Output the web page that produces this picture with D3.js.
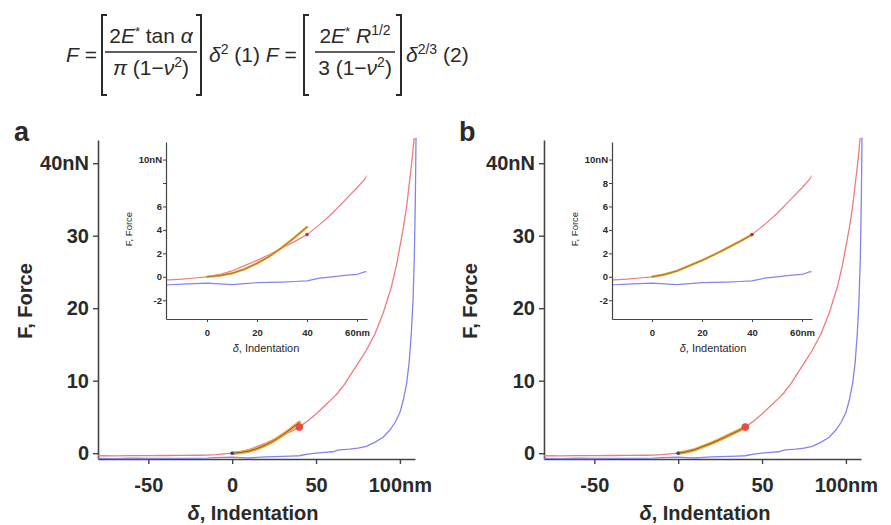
<!DOCTYPE html>
<html>
<head>
<meta charset="utf-8">
<script src="https://cdn.jsdelivr.net/npm/d3@7"></script>
<style>
  body { margin: 0; background: #fff; }
  svg { display: block; }
  text { font-family: "Liberation Sans", Arial, Helvetica, sans-serif; fill: #2a2a2a; }
</style>
</head>
<body>
<svg id="chart" width="891" height="525"></svg>
<script>
// Approach (loading) trace: indentation in nm, force in nN
const approachDelta = [-80, -70, -60, -50, -40, -30, -20, -15, -10, -5, 0, 5, 10, 15, 20, 25, 30, 35, 40, 45, 50, 55, 60, 63, 64, 67, 70, 75, 80, 85, 90, 95, 98, 100, 102, 104, 106, 107.5, 108.5];
const approachForce = [-0.35, -0.36, -0.33, -0.34, -0.32, -0.3, -0.28, -0.26, -0.2, -0.1, 0, 0.2, 0.5, 0.95, 1.4, 1.9, 2.45, 3.0, 3.6, 4.45, 5.4, 6.5, 7.6, 8.3, 8.65, 9.5, 10.6, 12.4, 14.2, 16.4, 19.3, 23.0, 26.0, 28.5, 31.0, 34.0, 38.0, 41.0, 43.5];

// Retract trace
const retractDelta = [-80, -70, -60, -50, -40, -30, -20, -15, -10, -5, 0, 5, 10, 15, 20, 25, 30, 35, 40, 45, 50, 55, 60, 63, 66, 70, 75, 80, 85, 90, 94, 97, 100, 102, 104, 105.5, 106.8, 107.8, 108.6, 109.2, 109.6];
const retractForce = [-0.72, -0.74, -0.7, -0.73, -0.7, -0.72, -0.7, -0.68, -0.62, -0.58, -0.54, -0.6, -0.66, -0.58, -0.5, -0.48, -0.45, -0.4, -0.35, -0.12, 0.0, 0.12, 0.2, 0.42, 0.48, 0.55, 0.7, 0.95, 1.5, 2.2, 3.2, 4.2, 5.6, 7.3, 9.6, 12.5, 16.5, 21.0, 27.0, 35.0, 43.5];

// Model fits over the 0-40 nm window
const fitDelta = [0, 5, 10, 15, 20, 25, 30, 35, 40];
const coneFitForce = [0, 0.1, 0.3, 0.65, 1.15, 1.75, 2.5, 3.35, 4.25];
const sphereFitForce = [0, 0.2, 0.5, 0.95, 1.4, 1.9, 2.45, 3.0, 3.6];

// Fit end point and contact point
const endPoint = { delta: 40, force: 3.6 };
const contactPoint = { delta: 0, force: 0 };

// Tick values and labels
const mainXTicks = [-50, 0, 50, 100];
const mainXLabels = ["-50", "0", "50", "100nm"];
const mainYTicks = [0, 10, 20, 30, 40];
const mainYLabels = ["0", "10", "20", "30", "40nN"];
const insetXTicks = [0, 20, 40, 60];
const insetXLabels = ["0", "20", "40", "60nm"];
const insetYTicks = [-2, 0, 2, 4, 6, 8, 10];
const insetYLabelsA = ["-2", "0", "2", "4", "6", "", "10nN"];
const insetYLabelsB = ["-2", "0", "2", "4", "6", "8", "10nN"];

const approach = approachDelta.map((d, i) => ({ x: d, y: approachForce[i] }));
const retract = retractDelta.map((d, i) => ({ x: d, y: retractForce[i] }));

const svg = d3.select("#chart");
const RED = "#f07a7e", BLUE = "#8384ec", ORANGE = "#f3a53c", OLIVE = "#7a6322", AXIS = "#444";

// ---------- formulas ----------
const fml = svg.append("g").style("font-size", "21px");

function bracket(x, dir) {
  // dir = 1 opens right "[", dir = -1 opens left "]"
  fml.append("path")
    .attr("d", `M${x + 5 * dir},15 H${x} V95 H${x + 5 * dir}`)
    .attr("fill", "none").attr("stroke", "#2a2a2a").attr("stroke-width", 2);
}
function addText(x, y, parts, anchor) {
  const t = fml.append("text").attr("x", x).attr("y", y).attr("text-anchor", anchor || "start");
  parts.forEach(p => {
    const s = t.append("tspan").text(p.t);
    if (p.i) s.style("font-style", "italic");
    if (p.dy) s.attr("dy", p.dy);
    if (p.fs) s.style("font-size", p.fs);
  });
  return t;
}

// (1) conical indenter
addText(66, 62, [{ t: "F", i: 1 }, { t: " =" }]);
bracket(102, 1);
addText(151, 43, [{ t: "2" }, { t: "E", i: 1 }, { t: "*", fs: "13px", dy: -7 }, { t: " tan ", dy: 7 }, { t: "α", i: 1 }], "middle");
fml.append("line").attr("x1", 105).attr("x2", 197).attr("y1", 52).attr("y2", 52).attr("stroke", "#2a2a2a").attr("stroke-width", 1.5);
addText(151, 75, [{ t: "π", i: 1 }, { t: " (1−" }, { t: "ν", i: 1 }, { t: "2", fs: "14px", dy: -8 }, { t: ")", dy: 8 }], "middle");
bracket(201, -1);
addText(209, 62, [{ t: "δ", i: 1 }, { t: "2", fs: "14px", dy: -8 }, { t: " (1) ", dy: 8 }, { t: "F", i: 1 }, { t: " =" }]);

// (2) spherical indenter
bracket(304, 1);
addText(355, 43, [{ t: "2" }, { t: "E", i: 1 }, { t: "*", fs: "13px", dy: -7 }, { t: " ", dy: 7 }, { t: "R", i: 1 }, { t: "1/2", fs: "14px", dy: -8 }], "middle");
fml.append("line").attr("x1", 315).attr("x2", 395).attr("y1", 52).attr("y2", 52).attr("stroke", "#2a2a2a").attr("stroke-width", 1.5);
addText(355, 75, [{ t: "3 (1−" }, { t: "ν", i: 1 }, { t: "2", fs: "14px", dy: -8 }, { t: ")", dy: 8 }], "middle");
bracket(401, -1);
addText(406, 62, [{ t: "δ", i: 1 }, { t: "2/3", fs: "14px", dy: -8 }, { t: " (2)", dy: 8 }]);

// ---------- panels ----------
let clipId = 0;
function drawPanel(cfg) {
  const g = svg.append("g");

  // main plot
  const x = d3.scaleLinear().domain([-80, 109]).range(cfg.mainX);
  const y = d3.scaleLinear().domain([-0.8, 43.2]).range([459, 140]);

  const xAxis = g.append("g").attr("transform", "translate(0,459)")
    .call(d3.axisBottom(x).tickValues(mainXTicks).tickFormat((d, i) => mainXLabels[i]).tickSize(5).tickSizeOuter(0));
  const yAxis = g.append("g").attr("transform", `translate(${cfg.mainX[0]},0)`)
    .call(d3.axisLeft(y).tickValues(mainYTicks).tickFormat((d, i) => mainYLabels[i]).tickSize(5).tickSizeOuter(0));
  [xAxis, yAxis].forEach(a => {
    a.select(".domain").attr("stroke", AXIS).attr("stroke-width", 1.6);
    a.selectAll(".tick line").attr("stroke", AXIS).attr("stroke-width", 1.4);
    a.selectAll(".tick text").style("font-size", "20px").style("font-weight", "bold").attr("fill", "#2a2a2a");
  });
  xAxis.selectAll(".tick text").attr("dy", "1.25em");
  yAxis.selectAll(".tick text").attr("x", -9);

  const line = d3.line().x(d => x(d.x)).y(d => y(d.y));
  g.append("path").datum(retract).attr("d", line).attr("fill", "none").attr("stroke", BLUE).attr("stroke-width", 1.3);
  g.append("path").datum(approach).attr("d", line).attr("fill", "none").attr("stroke", RED).attr("stroke-width", 1.3);
  const fit = fitDelta.map((d, i) => ({ x: d, y: cfg.fit[i] }));
  g.append("path").datum(fit).attr("d", line).attr("fill", "none").attr("stroke", ORANGE).attr("stroke-width", 3.5).attr("stroke-linecap", "round");
  g.append("path").datum(fit).attr("d", line).attr("fill", "none").attr("stroke", OLIVE).attr("stroke-width", 1);
  g.append("circle").attr("cx", x(endPoint.delta)).attr("cy", y(endPoint.force)).attr("r", 3.8).attr("fill", "#ea4a45");
  g.append("circle").attr("cx", x(contactPoint.delta)).attr("cy", y(contactPoint.force)).attr("r", 1.8).attr("fill", "#3b3b86");

  g.append("text").attr("x", cfg.labelX).attr("y", 141).text(cfg.label)
    .style("font-size", "27px").style("font-weight", "bold").attr("fill", "#111");
  g.append("text").attr("transform", `translate(${cfg.yTitleX},301) rotate(-90)`).attr("text-anchor", "middle")
    .text("F, Force").style("font-size", "20px").style("font-weight", "bold");
  g.append("text").attr("x", cfg.xTitleX).attr("y", 520).attr("text-anchor", "middle")
    .style("font-size", "20px").style("font-weight", "bold")
    .call(t => { t.append("tspan").text("δ").style("font-style", "italic"); t.append("tspan").text(", Indentation"); });

  // inset
  const xi = d3.scaleLinear().domain(cfg.insetDomain).range(cfg.insetX);
  const yi = d3.scaleLinear().domain([-3.6, 11.5]).range([319, 142]);
  const ixAxis = g.append("g").attr("transform", "translate(0,319)")
    .call(d3.axisBottom(xi).tickValues(insetXTicks).tickFormat((d, i) => insetXLabels[i]).tickSize(3).tickSizeOuter(0));
  const iyAxis = g.append("g").attr("transform", `translate(${cfg.insetX[0]},0)`)
    .call(d3.axisLeft(yi).tickValues(insetYTicks).tickFormat((d, i) => cfg.insetYLabels[i]).tickSize(3).tickSizeOuter(0));
  [ixAxis, iyAxis].forEach(a => {
    a.select(".domain").attr("stroke", AXIS).attr("stroke-width", 1.2);
    a.selectAll(".tick line").attr("stroke", AXIS).attr("stroke-width", 1);
    a.selectAll(".tick text").style("font-size", "9.5px").style("font-weight", "bold").attr("fill", "#333");
  });
  ixAxis.selectAll(".tick text").attr("dy", "1.2em");
  iyAxis.selectAll(".tick text").attr("x", -4);

  const id = "inset-clip-" + (clipId++);
  g.append("clipPath").attr("id", id).append("rect")
    .attr("x", cfg.insetX[0] + 1).attr("y", 130).attr("width", cfg.insetX[1] - cfg.insetX[0] - 1.5).attr("height", 188);
  const ig = g.append("g").attr("clip-path", `url(#${id})`);
  const iline = d3.line().x(d => xi(d.x)).y(d => yi(d.y));
  ig.append("path").datum(retract).attr("d", iline).attr("fill", "none").attr("stroke", BLUE).attr("stroke-width", 1.2);
  ig.append("path").datum(approach).attr("d", iline).attr("fill", "none").attr("stroke", RED).attr("stroke-width", 1.2);
  ig.append("path").datum(fit).attr("d", iline).attr("fill", "none").attr("stroke", ORANGE).attr("stroke-width", 2.4).attr("stroke-linecap", "round");
  ig.append("path").datum(fit).attr("d", iline).attr("fill", "none").attr("stroke", OLIVE).attr("stroke-width", 0.7);
  ig.append("circle").attr("cx", xi(endPoint.delta)).attr("cy", yi(endPoint.force)).attr("r", 1.8).attr("fill", "#c8302c");

  g.append("text").attr("transform", `translate(${cfg.insetX[0] - 34},229) rotate(-90)`).attr("text-anchor", "middle")
    .text("F, Force").style("font-size", "9.5px");
  g.append("text").attr("x", cfg.insetTitleX).attr("y", 352).attr("text-anchor", "middle").style("font-size", "11px")
    .call(t => { t.append("tspan").text("δ").style("font-style", "italic"); t.append("tspan").text(", Indentation"); });
}

drawPanel({
  label: "a", labelX: 14, yTitleX: 32, xTitleX: 253,
  mainX: [98, 415], insetDomain: [-16.4, 64], insetX: [166, 367], insetTitleX: 266,
  fit: coneFitForce, insetYLabels: insetYLabelsA
});
drawPanel({
  label: "b", labelX: 459, yTitleX: 477, xTitleX: 705,
  mainX: [544, 861], insetDomain: [-16, 64], insetX: [612, 812], insetTitleX: 713,
  fit: sphereFitForce, insetYLabels: insetYLabelsB
});
</script>
</body>
</html>
